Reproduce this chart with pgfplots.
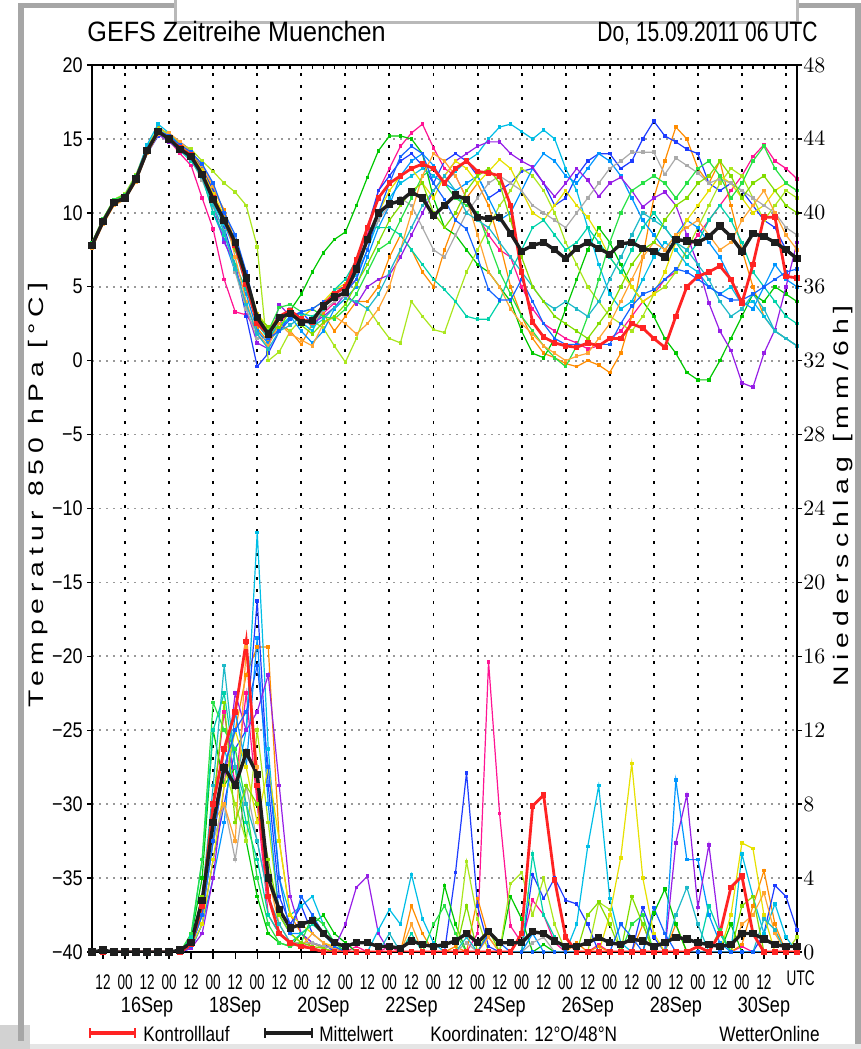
\documentclass[border=0pt]{standalone}
\usepackage{fontspec}
\setmainfont{Liberation Sans}
\newfontfamily\titlefont{Liberation Sans}[FakeStretch=0.9]
\newfontfamily\headfont{Liberation Sans}[FakeStretch=0.75]
\newfontfamily\narrowfont{Liberation Sans}[FakeStretch=0.64]
\newfontfamily\tickfont{Liberation Sans}[FakeStretch=0.85]
\newfontfamily\legfont{Liberation Sans}[FakeStretch=0.82]
\newfontfamily\widefont{Liberation Sans}[FakeStretch=1.35, LetterSpace=28]
\usepackage{pgfplots}
\usepackage{pgfplotstable}
\pgfplotsset{compat=1.18}

\definecolor{cA}{RGB}{255,20,147}
\definecolor{cB}{RGB}{255,140,0}
\definecolor{cC}{RGB}{30,60,255}
\definecolor{cD}{RGB}{0,200,0}
\definecolor{cE}{RGB}{170,230,30}
\definecolor{cF}{RGB}{0,190,230}
\definecolor{cG}{RGB}{0,150,255}
\definecolor{cH}{RGB}{150,30,230}
\definecolor{cI}{RGB}{230,225,0}
\definecolor{cJ}{RGB}{170,170,170}
\definecolor{cK}{RGB}{0,210,170}
\definecolor{cL}{RGB}{40,225,70}
\definecolor{cM}{RGB}{255,165,50}
\definecolor{cN}{RGB}{30,185,200}
\definecolor{cO}{RGB}{130,220,0}
\definecolor{cP}{RGB}{20,100,255}
\definecolor{cctl}{RGB}{255,35,35}
\definecolor{cmean}{RGB}{30,30,30}

% one row per ensemble member, columns = hours after 15.09. 06 UTC
\pgfplotstableread{
name 0 6 12 18 24 30 36 42 48 54 60 66 72 78 84 90 96 102 108 114 120 126 132 138 144 150 156 162 168 174 180 186 192 198 204 210 216 222 228 234 240 246 252 258 264 270 276 282 288 294 300 306 312 318 324 330 336 342 348 354 360 366 372 378 384
A 7.9 9.5 10.8 11.1 12.5 14.4 15.6 14.9 14.0 13.2 11.0 8.9 5.5 3.3 3.1 2.0 1.2 2.5 3.4 2.8 2.4 3.2 3.9 4.8 5.5 8.5 11.5 13.0 14.5 15.4 16.0 14.4 13.0 12.5 11.0 9.8 8.5 7.5 7.0 5.0 3.5 2.5 2.0 1.5 1.2 0.8 1.0 1.5 2.0 3.0 4.0 4.5 5.5 6.0 7.5 8.5 9.5 10.5 11.5 12.5 13.8 14.6 13.5 13.0 12.3
B 7.6 9.3 10.6 11.0 12.4 14.3 15.8 15.3 14.6 14.0 13.0 11.6 10.2 8.0 5.5 2.2 1.3 2.5 2.0 1.1 2.5 3.2 2.0 3.0 4.0 4.0 5.0 7.0 8.5 7.5 6.0 5.0 7.5 9.5 11.0 12.0 10.5 8.0 5.0 3.0 1.5 0.5 0.2 -0.2 -0.4 0.0 -0.3 -0.8 0.5 3.0 7.0 11.0 13.5 15.8 15.0 13.0 12.0 13.5 10.5 7.5 5.0 3.0 2.0 1.5 1.0
C 7.8 9.3 10.6 11.1 12.2 14.0 15.2 15.2 14.8 14.2 13.0 11.5 9.0 6.5 3.0 -0.4 0.5 2.0 3.0 3.3 2.5 3.8 4.6 4.8 6.5 9.0 11.5 12.5 13.5 14.0 13.2 12.0 13.5 14.0 13.5 12.5 11.0 11.5 12.0 12.8 13.0 12.0 10.5 11.0 12.5 13.5 14.0 14.0 13.0 13.5 15.0 16.2 15.2 14.8 14.3 14.0 12.0 11.5 12.0 11.5 10.5 9.5 9.0 7.5 7.0
D 7.9 9.5 10.9 11.2 12.2 14.0 15.4 15.0 14.4 13.9 12.8 11.2 9.6 8.0 5.5 3.0 2.0 3.0 3.4 4.5 6.0 7.3 8.2 8.7 10.5 12.4 14.2 15.2 15.2 15.0 14.0 11.0 9.0 8.5 7.5 6.5 6.0 5.0 4.0 2.0 0.5 0.2 1.5 3.5 5.5 7.5 9.0 8.0 6.5 5.0 4.0 3.0 1.5 0.5 -0.8 -1.3 -1.3 0.0 1.5 3.0 4.5 4.0 5.0 4.5 4.0
E 8.0 9.6 10.9 11.3 12.6 14.5 15.7 15.3 14.7 14.3 13.5 12.8 12.0 11.4 10.5 7.7 0.0 0.6 2.0 2.8 2.7 2.2 1.0 -0.1 1.5 3.6 2.5 1.5 1.2 4.0 3.0 2.1 1.9 4.0 6.0 7.5 9.0 10.5 11.5 13.0 12.5 11.5 10.0 8.0 6.5 5.0 4.0 3.0 2.5 2.0 3.0 4.5 5.0 6.0 7.5 9.0 10.5 12.0 13.0 12.5 11.0 9.5 10.5 11.5 11.0
F 7.7 9.4 10.8 11.2 12.5 14.6 16.0 15.4 14.5 13.8 12.3 10.6 9.2 7.5 5.0 2.5 1.5 2.8 3.3 2.6 2.0 3.5 4.8 5.0 5.8 7.5 9.5 11.0 12.0 12.5 13.0 12.5 12.0 12.8 13.5 14.0 15.0 15.8 16.0 15.5 15.0 15.6 15.0 13.0 11.5 9.0 6.5 4.5 3.5 4.0 5.5 7.0 8.0 7.5 6.5 6.0 5.0 4.5 5.0 3.8 4.0 3.0 2.0 1.5 1.0
G 7.8 9.4 10.7 11.0 12.3 14.3 15.6 15.1 14.2 13.8 12.5 10.0 8.2 6.0 4.5 2.0 1.2 2.2 3.0 2.0 1.2 2.0 3.5 4.2 5.0 7.0 9.0 10.5 12.5 13.5 14.0 13.2 12.0 11.5 12.0 12.5 11.0 9.5 10.0 11.5 13.0 14.0 13.5 12.5 12.0 13.0 14.0 13.5 12.5 11.0 9.5 8.5 7.5 8.5 9.5 9.0 8.0 7.0 5.5 4.0 3.5 5.0 6.5 5.5 5.0
H 7.7 9.3 10.6 11.0 12.2 14.0 15.3 14.8 14.2 13.7 12.8 10.5 8.0 6.5 3.5 1.2 0.8 3.8 3.0 2.8 2.5 3.0 3.6 4.5 3.8 5.0 5.5 5.8 7.0 8.5 10.0 11.5 12.5 13.5 14.0 14.5 14.8 14.8 14.0 13.5 13.1 12.0 11.1 12.0 13.0 12.2 11.1 12.0 12.4 11.5 10.4 11.0 11.4 10.5 8.5 6.5 3.9 2.0 0.7 -1.5 -1.8 0.5 2.1 5.0 8.0
I 7.9 9.5 10.8 11.2 12.4 14.3 15.5 15.1 14.5 14.0 12.9 11.3 9.8 8.0 5.8 3.2 2.2 3.0 3.2 2.9 3.5 4.0 4.8 5.2 6.0 8.0 10.0 11.5 12.5 13.0 12.0 11.0 12.5 13.5 13.0 12.0 12.8 13.6 13.0 11.5 10.0 9.5 10.5 11.5 10.5 9.7 8.5 7.0 6.0 5.0 4.0 4.5 6.0 8.0 9.5 10.5 11.5 12.5 12.0 11.0 10.0 10.5 11.5 12.0 11.5
J 7.8 9.4 10.7 11.0 12.3 14.2 15.4 14.9 14.3 13.6 12.2 10.4 8.8 6.0 3.5 1.5 1.5 2.8 3.5 2.8 2.5 3.4 4.0 4.4 6.0 8.0 9.5 10.5 11.0 10.5 9.0 7.5 7.0 8.5 10.0 11.0 12.0 12.5 12.0 11.5 10.5 10.0 9.5 9.0 10.0 11.0 12.0 13.0 13.5 14.1 14.1 14.1 12.6 13.7 13.2 12.7 12.0 12.3 12.0 11.5 11.0 10.5 10.0 9.0 8.5
K 7.7 9.3 10.6 10.9 12.2 14.1 15.5 15.0 14.2 13.5 12.4 10.0 8.5 6.5 4.8 2.5 1.5 2.5 2.8 3.2 3.0 3.5 4.8 5.5 6.8 9.0 9.0 9.0 8.5 7.5 6.5 5.5 4.8 4.0 3.0 2.8 2.8 4.0 6.0 7.5 9.0 9.5 8.5 7.5 8.0 9.0 8.0 7.0 6.0 7.5 9.0 10.0 9.0 8.0 7.0 8.0 9.5 10.5 9.5 8.0 6.0 5.0 4.0 3.0 2.5
L 8.0 9.6 10.9 11.2 12.5 14.3 15.6 15.0 14.3 13.9 12.7 11.0 9.6 7.5 5.2 2.8 2.0 3.6 3.8 3.3 3.5 3.0 2.8 3.5 4.5 6.0 7.5 8.0 9.5 11.0 12.5 13.0 12.0 11.0 10.5 10.0 8.0 6.0 4.5 3.0 2.0 1.0 0.2 -0.4 1.0 3.0 5.5 8.0 10.0 11.5 12.0 12.5 12.0 11.0 12.0 13.0 13.5 12.5 11.0 12.0 13.5 14.5 13.0 12.0 11.5
M 7.6 9.2 10.5 10.9 12.1 14.0 15.3 15.4 14.8 14.1 13.2 11.8 10.0 7.0 4.0 1.8 1.0 2.5 1.8 1.4 1.0 2.5 3.0 2.5 1.8 2.5 3.5 5.0 7.5 10.0 12.5 14.0 13.5 12.5 11.0 8.5 6.0 5.0 3.5 2.5 1.8 1.0 0.5 0.0 0.3 0.5 1.5 2.5 4.0 5.5 7.0 8.0 7.5 8.5 9.0 9.5 8.5 7.5 8.0 9.5 10.5 11.5 10.0 8.5 7.5
N 7.9 9.4 10.8 11.1 12.3 14.2 15.4 14.9 14.2 13.6 12.4 10.5 8.7 6.2 3.8 1.8 0.8 2.0 2.4 3.0 2.3 2.8 3.6 4.2 4.0 3.5 4.5 6.0 7.5 9.0 10.5 11.5 12.5 11.5 10.0 9.5 9.0 8.0 7.0 6.0 5.0 4.0 3.5 4.0 3.5 3.0 4.0 5.5 7.0 8.5 10.0 9.5 9.0 8.0 7.5 6.5 5.5 4.0 3.0 3.5 4.5 3.5 2.0 1.5 1.0
O 7.8 9.5 10.8 11.1 12.4 14.2 15.5 15.1 14.4 13.9 12.7 11.0 9.5 7.6 5.5 3.0 2.3 2.2 3.4 2.4 1.8 2.6 3.0 3.8 5.2 6.5 8.0 9.5 10.5 11.5 12.0 10.0 9.0 10.0 11.5 12.5 13.0 12.0 9.5 7.0 5.0 4.0 3.0 2.5 2.0 1.5 2.5 3.5 5.0 6.5 7.5 8.0 9.5 10.5 11.0 12.0 12.5 13.5 12.5 11.0 12.0 12.5 11.5 10.5 10.0
P 7.8 9.4 10.7 11.1 12.3 14.3 15.6 15.2 14.6 14.1 13.3 12.0 10.0 8.5 6.0 3.0 1.5 2.0 2.8 3.3 3.5 4.0 4.3 4.6 5.5 7.5 10.0 12.0 13.8 14.5 14.0 12.0 10.9 9.5 8.9 7.0 4.8 4.1 4.1 5.5 4.0 2.5 1.5 1.1 1.1 1.1 1.1 1.1 2.5 3.7 4.5 4.8 5.5 6.2 6.0 5.5 5.0 4.5 4.1 4.1 4.5 5.0 5.5 6.0 6.2
ctl 7.8 9.4 10.7 11.0 12.3 14.2 15.5 15.0 14.4 13.9 12.6 11.0 9.5 7.8 5.2 2.5 1.8 3.0 3.4 2.8 2.6 3.8 4.5 5.0 6.8 9.0 11.0 12.0 12.5 13.0 13.3 13.0 12.0 13.0 13.5 12.8 12.7 12.5 10.5 6.0 2.6 1.6 1.2 1.0 0.9 1.2 1.0 1.5 1.5 2.5 2.2 1.5 0.9 3.0 5.0 5.7 6.0 6.4 5.5 3.9 6.5 9.7 9.7 5.7 5.6
mean 7.8 9.4 10.7 11.0 12.3 14.2 15.5 15.0 14.3 13.8 12.6 10.9 9.5 8.0 5.6 2.9 1.8 2.9 3.2 2.6 2.7 3.7 4.3 4.6 6.2 8.2 10.0 10.6 10.8 11.4 11.0 9.8 10.5 11.2 10.9 9.7 9.6 9.7 8.6 7.4 7.8 8.0 7.5 6.9 7.6 8.0 7.6 7.2 7.9 8.0 7.6 7.4 7.0 8.2 8.1 8.0 8.4 9.1 8.4 7.4 8.6 8.4 8.0 7.5 6.9
}\temprows

\pgfplotstableread{
name 0 6 12 18 24 30 36 42 48 54 60 66 72 78 84 90 96 102 108 114 120 126 132 138 144 150 156 162 168 174 180 186 192 198 204 210 216 222 228 234 240 246 252 258 264 270 276 282 288 294 300 306 312 318 324 330 336 342 348 354 360 366 372 378 384
A 0 0 0 0 0 0 0 0 0 0.5 3 8 13 9 14 8 2 1 0.5 0.3 0.5 0.2 0 0 0.3 0 0 0.3 0 0 0 0 0 0 0 1 15.7 7.5 1.4 0.5 2.8 2.0 0.5 0 0 0 0.4 0 0 0 0 0 0 0 0 0 0 0 0 0.3 0 0 0 0 0
B 0 0 0 0 0 0 0 0 0 0.3 2 6 10 12 15 16.5 16.5 6 2 1 0.2 0 0 0 0 0 0 0 0 2.5 1.0 0 0 0.3 0 2.9 0.8 0 0 0 0 0 0 0 0.5 0 0.3 0 0 0 1.5 0 0 1.5 0 0 0 0 0 0.4 2.5 4.4 1.5 0 0
C 0 0 0 0 0 0 0 0 0 0.2 1.5 5 8 11 12 19 9 3 1.5 2.5 1 0.5 0 0 0 0 0 0 0 0 0 0 0 4.3 9.7 2.5 0.3 0 0 0 4.2 2.9 4.0 2.8 2.6 1.5 0 0 0 0 2.4 0.8 0 0 0 0 0 0 0 0 0 1.0 3.6 3.0 1.2
D 0 0 0 0 0 0 0 0 0 0.8 4 12 9 10 6 3 1 0.5 0.3 1 1.5 2 1 0.5 0 0 0 0 0 0 0 0 3.6 1.5 0 0 0 0 3.0 1.8 0 0.4 0 0 0 0 0 0 0 0 0 2.1 3.4 1.5 0 0 0 0 1.5 0 0 0 0 0 0
E 0 0 0 0 0 0 0 0 0 0.5 2 7 10 8 6 12 7 2 1 0.5 0.5 0.2 0 0 0 0 0 0 0 0 0 0 0 0 4.9 1.8 0 0 3.7 4.3 2.0 4.0 1.5 0 0 0 2.7 2.3 0 0 0 0 0 0 0 0 0 0 0 0 0 0 0 0 0.8
F 0 0 0 0 0 0 0 0 0 0.3 2 6 11 9 12 22.7 11 4 2 2.5 3 1.5 0.5 0 0 0 1.2 2.3 1.5 4.2 1.8 0.5 0 0 0 0 0 0 0 0 0 0 0 0 1.5 5.7 9.0 2.9 0.5 0 0 0 0 0 0 0 0 0 0 5.3 3.0 1.0 2.6 0.8 0
G 0 0 0 0 0 0 0 0 0 0.2 1.5 4 7 13 10 17 8 2 1 1 0.5 0.3 0.2 0 0 0 0 0 0 0 0 0 0 0 0 0 0 0 0 0 1.0 0 0 0 0 0 0 0 0 0 0 0 0 9.3 5.0 5.0 2.0 0.5 0 0 0 0 0 0 0
H 0 0 0 0 0 0 0 0 0 0.2 1 4 9 14 12 13 15 9 3 1 0.5 0.3 0.2 1.5 3.5 4.1 1.0 0 0 0 0 0 0 0 0 0 0 0 0 0 0 0 0 0 0 0 0 0 0 0 0 0 0 5.9 8.5 2.4 5.8 1.0 0 0 0 0 0 0 0
I 0 0 0 0 0 0 0 0 0 0.3 1.5 5 9 12 10 7 10 6 2 1.5 1 0.5 0.3 0 0 0 0 0 0 0 0 0 0 0 0 0 0 0 0 0 0 0 0 0 0 0 0 2.0 5.1 10.2 4.0 1.0 0 0 0 0 0 0 2.0 5.9 5.6 2.0 0 0 0
J 0 0 0 0 0 0 0 0 0 0.5 3 6 8 5 9 6 3 1 0.5 0.5 0.5 0.3 0.2 0 0 0 0 0 0 0 0 0 0 0 0.5 0 0 0 0 0 0.5 0.8 0 0 0 0 0 0 0 0 0 0 0 0 0 0 0 0 0 0 0 0 0 0 0
K 0 0 0 0 0 0 0 0 0 0.8 5 12 14 10 7 5 2 1 0.5 1 1.5 1 0.3 0 0 0 0 0 0 1.0 0 0 0 0 0 0 0 0 0 0 5.3 2.0 0.8 0 0 0 0 0 0 0 0 0 0 0 0 0 2.5 1.0 0 0 0 0 0 0 0
L 0 0 0 0 0 0 0 0 0 1 5 13.5 12 11 8 4 1.5 0.5 0.3 0.5 2 1.5 0.5 0 0 0 0 0 0 0 0 1.5 2.5 1.0 0 0 0 0 0 0 0 0 0 0 0 0 0 0 0 1.5 2.0 0 0 0 0 0 0 1.2 0 0 0 0 0 0 0
M 0 0 0 0 0 0 0 0 0 0.4 2.5 7 8 6 16.5 10 4 1.5 0.5 0.3 1 0.5 0.2 0 0 0 0 0 0 1.5 0 0 0 0 0 0 0.8 0 0 0 0 0 0 0 0 0 0 0 0 0 0 0 0 0 0 0 0 0 0 1.5 2.0 3.2 1.0 0 0
N 0 0 0 0 0 0 0 0 0 0.5 3 9 15.5 10 8 6 3 1.5 0.5 0.3 0.2 0 0 0 0 0 0 1.0 0 0 0 0 0 0 0.8 0 0 0 0 0 0 0 0 0 0 0 0 0 0 0 0 0 0 2.0 3.5 1.5 0 0 0 0 0 1.8 1.2 0 0
O 0 0 0 0 0 0 0 0 0 0.6 3 8 13.5 7 9 8 5 2 1 0.5 0.3 0.2 0 0 0 0 0 0 0 0 0 0 0 0 2.5 0 1.2 0 0 0 0 0 0 0 0 2.0 2.7 1.5 0 3.0 1.5 0 0 0 0 0 0 0 0 2.5 3.0 0 0 0 0
P 0 0 0 0 0 0 0 0 0 0.3 2 6 10 12 13 15.5 10 4 1 3 2 1 0.3 0 0 0 0 0 0 0 0 0 0 0 0 0 1.0 0.5 0 0 0 0 0 0 0 0 0 0 1.5 0.8 0 2.4 1.0 0 0 0 0 0 0 0 0 0 0 0 0
ctl 0 0 0 0 0 0 0 0 0 0.4 2.5 8 11 13 16.8 9 3 1 0.5 0.3 0.2 0 0 0 0 0 0 0 0 0 0 0 0 0 0 0 0 0 0 1.0 7.9 8.5 3.9 0.8 0 0 0 0 0 0 0 0 0 0 0 0.3 0 1.0 3.5 4.1 1.0 0 0 0 0
mean 0 0.1 0 0 0 0 0 0 0.1 0.5 2.8 7.0 10.0 9.0 10.8 9.6 4.0 2.3 1.3 1.5 1.7 1.0 0.5 0.3 0.5 0.5 0.3 0.3 0.2 0.6 0.4 0.3 0.4 0.6 1.0 0.5 1.1 0.5 0.5 0.5 1.1 1.0 0.6 0.3 0.3 0.5 0.8 0.5 0.4 0.7 0.6 0.3 0.5 0.8 0.7 0.5 0.4 0.3 0.4 1.0 1.0 0.7 0.4 0.3 0.3
}\preciprows

\pgfplotstabletranspose[colnames from=name, input colnames to=t]{\temps}{\temprows}
\pgfplotstabletranspose[colnames from=name, input colnames to=t]{\precip}{\preciprows}

\pgfplotsset{
  memb/.style={line width=0.6pt, mark=square*, mark size=0.6pt, mark options={solid}},
  ctlline/.style={color=cctl, line width=1.4pt, mark=square*, mark size=0.7pt},
  meanline/.style={color=cmean, line width=1.7pt, mark=square*, mark size=1pt},
  frame/.style={at={(46pt,48.5pt)}, anchor=south west, width=352.5pt, height=443.5pt,
    scale only axis, xmin=0, xmax=384},
}
\tikzset{
  datelab/.style={anchor=base, inner sep=0pt, font=\legfont\fontsize{11}{11}\selectfont, yshift=-30.5pt},
}

\begin{document}
\begin{tikzpicture}
\begin{scope}[x=0.5pt,y=0.5pt]
  \path[use as bounding box] (0,0) rectangle (861,1049);
  \fill[gray!20] (0,0) rectangle (861,5);
  \fill[gray!35] (0,0) rectangle (30,24);
  \fill[gray!70] (18,8) rectangle (24,1046);
  \fill[gray!70] (855,5) rectangle (861,1046);
  \fill[gray!70] (18,1041) rectangle (861,1046);
  \filldraw[fill=white, draw=gray!55, line width=1.5] (175,1026) rectangle (797,1052);
\end{scope}

% temperature
\begin{axis}[frame,
  ymin=-40, ymax=20,
  clip mode=individual,
  axis x line*=bottom, axis y line*=left,
  axis line style={line width=1.4pt, -},
  tick align=outside,
  major tick length=2.5pt,
  xtick={6,18,...,378},
  xticklabels={12,00,12,00,12,00,12,00,12,00,12,00,12,00,12,00,12,00,12,00,12,00,12,00,12,00,12,00,12,00,12,{}},
  xtick style={black, line width=0.7pt, /pgfplots/major tick length=3.5pt},
  xticklabel style={font=\narrowfont\fontsize{10.6}{11}\selectfont, anchor=base, inner sep=0pt, yshift=-16.5pt},
  ytick={-40,-35,...,20},
  yticklabels={−40,−35,−30,−25,−20,−15,−10,−5,0,5,10,15,20},
  ytick style={black, line width=0.7pt},
  yticklabel style={font=\tickfont\fontsize{10.6}{11}\selectfont, anchor=east, inner sep=0pt, xshift=-2pt},
  ymajorgrids,
  major grid style={black!40, line width=0.9pt, dash pattern=on 0.9pt off 2.6pt},
  extra x ticks={18,42,...,378},
  extra x tick labels={},
  extra x tick style={grid=major, major tick length=0pt,
    major grid style={black, line width=0.95pt, dash pattern=on 1.5pt off 4.5pt}},
]
\pgfplotsinvokeforeach{A,B,C,D,E,F,G,H,I,J,K,L,M,N,O,P}{
  \addplot[memb, color=c#1] table[x=t, y=#1] {\temps};
}
\addplot[ctlline] table[x=t, y=ctl] {\temps};
\addplot[meanline] table[x=t, y=mean] {\temps};

\node[datelab] at (axis cs:30,-40) {16Sep};
\node[datelab] at (axis cs:78,-40) {18Sep};
\node[datelab] at (axis cs:126,-40) {20Sep};
\node[datelab] at (axis cs:174,-40) {22Sep};
\node[datelab] at (axis cs:222,-40) {24Sep};
\node[datelab] at (axis cs:270,-40) {26Sep};
\node[datelab] at (axis cs:318,-40) {28Sep};
\node[datelab] at (axis cs:366,-40) {30Sep};
\node[anchor=base, inner sep=0pt, font=\narrowfont\fontsize{10.6}{11}\selectfont, yshift=-16.5pt] at (axis cs:386,-40) {UTC};
\end{axis}

% precipitation
\begin{axis}[frame,
  ymin=0, ymax=48,
  axis x line=none, axis y line*=right,
  axis line style={line width=1.4pt, -},
  tick align=outside,
  major tick length=2.5pt,
  ytick={0,4,...,48},
  ytick style={black, line width=0.7pt},
  yticklabel style={font=\tickfont\fontsize{10.6}{11}\selectfont, anchor=west, inner sep=0pt, xshift=0.5pt},
]
\pgfplotsinvokeforeach{A,B,C,D,E,F,G,H,I,J,K,L,M,N,O,P}{
  \addplot[memb, color=c#1] table[x=t, y=#1] {\precip};
}
\addplot[ctlline] table[x=t, y=ctl] {\precip};
\addplot[meanline] table[x=t, y=mean] {\precip};
\end{axis}

% top frame with 6-hourly ticks
\begin{axis}[frame,
  ymin=0, ymax=1,
  hide y axis,
  axis x line*=top,
  axis line style={line width=1.4pt, -},
  xtick={0,6,...,384}, xticklabels={},
  tick align=inside, major tick length=2pt,
  xtick style={black, line width=0.8pt},
]
\end{axis}

\begin{scope}[x=0.5pt,y=0.5pt]
  \node[anchor=base west, inner sep=0pt, font=\titlefont\fontsize{14}{14}\selectfont] at (87,1007) {GEFS Zeitreihe Muenchen};
  \node[anchor=base east, inner sep=0pt, font=\headfont\fontsize{14}{14}\selectfont] at (818,1007) {Do, 15.09.2011 06 UTC};
  \node[rotate=90, inner sep=0pt, font=\widefont\fontsize{10.5}{11}\selectfont] at (38,554) {Temperatur 850 hPa [°C]};
  \node[rotate=90, inner sep=0pt, font=\widefont\fontsize{10.5}{11}\selectfont] at (843,553) {Niederschlag [mm/6h]};
  % legend row
  \draw[cctl, line width=2pt] (90,16) -- (135,16);
  \draw[cctl, line width=1pt] (90,11) -- (90,21) (135,11) -- (135,21);
  \node[anchor=base west, inner sep=0pt, font=\legfont\fontsize{10.5}{11}\selectfont] at (143,7) {Kontrolllauf};
  \draw[cmean, line width=2pt] (265,16) -- (312,16);
  \draw[cmean, line width=1pt] (265,11) -- (265,21) (312,11) -- (312,21);
  \node[anchor=base west, inner sep=0pt, font=\legfont\fontsize{10.5}{11}\selectfont] at (319,7) {Mittelwert};
  \node[anchor=base west, inner sep=0pt, font=\legfont\fontsize{10.5}{11}\selectfont] at (430,7) {Koordinaten: 12°O/48°N};
  \node[anchor=base east, inner sep=0pt, font=\legfont\fontsize{10.5}{11}\selectfont] at (820,7) {WetterOnline};
\end{scope}
\end{tikzpicture}
\end{document}
